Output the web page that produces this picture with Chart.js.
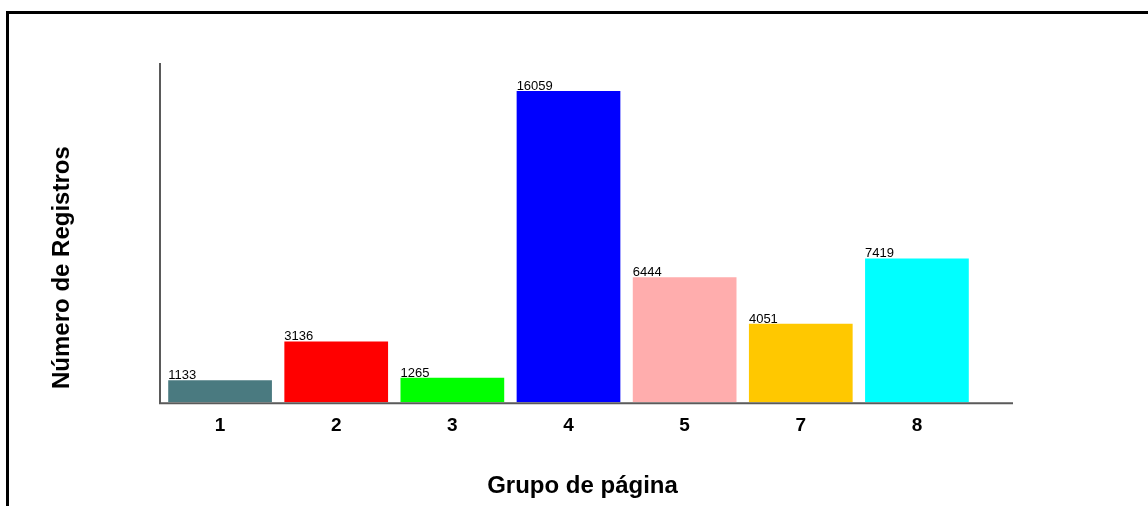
<!DOCTYPE html>
<html lang="es">
<head>
<meta charset="utf-8">
<title>Número de Registros por Grupo de página</title>
<script src="https://cdn.jsdelivr.net/npm/chart.js@4/dist/chart.umd.min.js"></script>
<style>
  html, body { margin: 0; padding: 0; background: #fff; }
  #wrap { position: relative; width: 1148px; height: 506px; overflow: hidden; }
  #frame {
    position: absolute; left: 6px; top: 11px; width: 1160px; height: 520px;
    border-top: 3px solid #000; border-left: 3px solid #000; box-sizing: border-box;
  }
  canvas { position: absolute; left: 0; top: 0; }
</style>
</head>
<body>
<div id="wrap">
  <div id="frame"></div>
  <canvas id="chart" width="1148" height="506"></canvas>
</div>
<script>
// Registros por grupo de página
const grupos = ['1', '2', '3', '4', '5', '7', '8'];
const registros = [1133, 3136, 1265, 16059, 6444, 4051, 7419];
const coresBarras = ['#4a7a80', '#ff0000', '#00ff00', '#0000ff', '#ffadad', '#ffc800', '#00ffff'];
const tituloY = 'Número de Registros';
const tituloX = 'Grupo de página';

const FONT = '"Liberation Sans", Arial, Helvetica, sans-serif';
const AXIS_COLOR = '#5a5a5a';
const AXIS_OVERHANG = 38; // the baseline runs a little past the last bar slot

// Axis lines under the bars; value labels and both axis titles above them
const axesAndLabels = {
  id: 'axesAndLabels',
  beforeDatasetsDraw(chart) {
    const { ctx, chartArea } = chart;
    ctx.save();
    ctx.strokeStyle = AXIS_COLOR;
    ctx.lineWidth = 2;
    ctx.beginPath();
    ctx.moveTo(chartArea.left - 2, chartArea.top);
    ctx.lineTo(chartArea.left - 2, chartArea.bottom + 1);
    ctx.lineTo(chartArea.right + AXIS_OVERHANG, chartArea.bottom + 1);
    ctx.stroke();
    ctx.restore();
  },
  afterDatasetsDraw(chart) {
    const { ctx, chartArea } = chart;
    const meta = chart.getDatasetMeta(0);
    const values = chart.data.datasets[0].data;
    ctx.save();
    ctx.font = '13px ' + FONT;
    ctx.fillStyle = '#000';
    ctx.textAlign = 'left';
    ctx.textBaseline = 'alphabetic';
    meta.data.forEach((bar, i) => {
      ctx.fillText(String(values[i]), bar.x - bar.width / 2, bar.y - 1);
    });
    ctx.restore();

    // vertical axis title, centred a little below the middle of the plot
    ctx.save();
    ctx.font = 'bold 24px ' + FONT;
    ctx.fillStyle = '#000';
    ctx.textAlign = 'center';
    ctx.textBaseline = 'middle';
    ctx.translate(chartArea.left - 100, (chartArea.top + chartArea.bottom) / 2 + 35);
    ctx.rotate(-Math.PI / 2);
    ctx.fillText(tituloY, 0, 0);
    ctx.restore();

    // horizontal axis title, centred under the full baseline
    ctx.save();
    ctx.font = 'bold 24px ' + FONT;
    ctx.fillStyle = '#000';
    ctx.textAlign = 'center';
    ctx.textBaseline = 'alphabetic';
    const midX = (chartArea.left + chartArea.right + AXIS_OVERHANG) / 2 - 5;
    ctx.fillText(tituloX, midX, chartArea.bottom + 91);
    ctx.restore();
  }
};

new Chart(document.getElementById('chart'), {
  type: 'bar',
  data: {
    labels: grupos,
    datasets: [{
      data: registros,
      backgroundColor: coresBarras,
      borderWidth: 0,
      categoryPercentage: 1,
      barPercentage: 0.893
    }]
  },
  options: {
    responsive: false,
    animation: false,
    devicePixelRatio: 1,
    layout: { padding: { left: 162, top: 63, right: 173, bottom: 57 } },
    plugins: {
      legend: { display: false },
      tooltip: { enabled: false }
    },
    scales: {
      x: {
        grid: { display: false, drawTicks: false },
        border: { display: false },
        ticks: {
          color: '#000',
          padding: 12,
          font: { family: FONT, size: 19, weight: 'bold' }
        }
      },
      y: {
        display: false,
        min: 0,
        max: 17500
      }
    }
  },
  plugins: [axesAndLabels]
});
</script>
</body>
</html>
